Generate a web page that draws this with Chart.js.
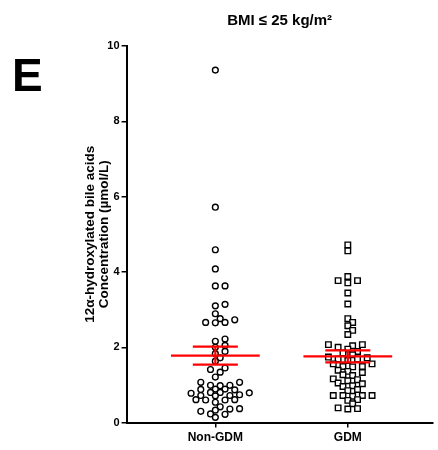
<!DOCTYPE html>
<html>
<head>
<meta charset="utf-8">
<script src="https://cdn.jsdelivr.net/npm/chart.js@4/dist/chart.umd.min.js"></script>
<style>
  body { margin: 0; background: #fff; }
  #wrap { width: 438px; height: 450px; position: relative; }
</style>
</head>
<body>
<div id="wrap"><canvas id="chart"></canvas></div>
<script>
// Data
const groups = ['Non-GDM', 'GDM'];
const nonGdmValues = [
  9.36, 5.72, 4.59, 4.08, 3.63, 3.63, 3.14, 3.10, 2.89, 2.76, 2.73, 2.66, 2.66, 2.65,
  2.22, 2.16, 2.05, 2.00, 1.89, 1.83, 1.72, 1.63, 1.45, 1.41, 1.34, 1.21, 1.07, 1.07,
  0.99, 0.99, 0.98, 0.89, 0.89, 0.88, 0.87, 0.80, 0.80, 0.79, 0.78, 0.74, 0.72, 0.72,
  0.71, 0.61, 0.61, 0.60, 0.60, 0.54, 0.42, 0.37, 0.36, 0.33, 0.30, 0.23, 0.22, 0.14
];
const gdmValues = [
  4.72, 4.56, 3.88, 3.77, 3.77, 3.71, 3.44, 3.15, 2.76, 2.66, 2.57, 2.45, 2.34, 2.07,
  2.07, 2.04, 2.00, 1.95, 1.89, 1.85, 1.80, 1.74, 1.72, 1.69, 1.69, 1.65, 1.56, 1.56,
  1.49, 1.49, 1.48, 1.39, 1.36, 1.33, 1.27, 1.25, 1.16, 1.14, 1.11, 1.05, 1.03, 0.98,
  0.96, 0.88, 0.85, 0.72, 0.72, 0.72, 0.72, 0.70, 0.61, 0.59, 0.50, 0.39, 0.37, 0.36
];
const groupMeans = [1.78, 1.76];
const groupSems = [0.24, 0.16];
const yTicks = [0, 2, 4, 6, 8, 10];

// Layout constants
const SWARM_STEP = 4.85;   // px between swarm columns
const MIN_GAP = 5.8;       // px, marker collision distance
const MEAN_HALF = 0.335;   // half width of mean bar (x units)
const SEM_HALF = 0.17;     // half width of SEM caps
const FONT = "'Liberation Sans', Arial, sans-serif";

const groupValues = [nonGdmValues, gdmValues];
const pointData = groupValues.map((vals, g) => vals.map(v => ({ x: g, y: v })));

// red mean +/- SEM segments
function errorSegments() {
  const segs = [];
  groupMeans.forEach((m, g) => {
    const s = groupSems[g];
    segs.push([{ x: g - MEAN_HALF, y: m }, { x: g + MEAN_HALF, y: m }]);
    segs.push([{ x: g - SEM_HALF, y: m + s }, { x: g + SEM_HALF, y: m + s }]);
    segs.push([{ x: g - SEM_HALF, y: m - s }, { x: g + SEM_HALF, y: m - s }]);
    segs.push([{ x: g, y: m - s }, { x: g, y: m + s }]);
  });
  return segs;
}

const lineSets = errorSegments().map(seg => ({
  type: 'line',
  data: seg,
  borderColor: '#ff0000',
  borderWidth: 2.2,
  pointRadius: 0,
  fill: false,
  order: 0
}));

// Big panel letter
const panelLetter = {
  id: 'panelLetter',
  afterDraw(chart) {
    const ctx = chart.ctx;
    ctx.save();
    ctx.fillStyle = '#000';
    ctx.font = 'bold 46px ' + FONT;
    ctx.textBaseline = 'alphabetic';
    ctx.fillText('E', 12, 91);
    ctx.restore();
  }
};

const chart = new Chart(document.getElementById('chart'), {
  type: 'scatter',
  data: {
    datasets: [
      {
        data: pointData[0],
        pointStyle: 'circle',
        pointRadius: 2.9,
        borderWidth: 1.4,
        borderColor: '#000',
        backgroundColor: '#fff',
        order: 1
      },
      {
        data: pointData[1],
        pointStyle: 'rect',
        pointRadius: 3.9,
        borderWidth: 1.4,
        borderColor: '#000',
        backgroundColor: '#fff',
        order: 1
      },
      ...lineSets
    ]
  },
  options: {
    responsive: true,
    maintainAspectRatio: false,
    animation: false,
    layout: { padding: { left: 83, right: 0, top: 4, bottom: 2 } },
    plugins: {
      legend: { display: false },
      tooltip: { enabled: false },
      title: {
        display: true,
        fullSize: false,
        text: 'BMI ≤ 25 kg/m²',
        color: '#000',
        font: { family: FONT, weight: 'bold', size: 15 },
        padding: { top: 8, bottom: 16 }
      }
    },
    scales: {
      x: {
        type: 'linear',
        min: -0.67,
        max: 1.64,
        afterBuildTicks: scale => { scale.ticks = groups.map((_, i) => ({ value: i })); },
        ticks: {
          callback: v => groups[v],
          color: '#000',
          font: { family: FONT, weight: 'bold', size: 12 },
          padding: 3,
          maxRotation: 0
        },
        grid: { drawOnChartArea: false, drawTicks: true, tickLength: 5, color: '#000', lineWidth: 1.5 },
        border: { color: '#000', width: 2 }
      },
      y: {
        min: 0,
        max: 10,
        afterBuildTicks: scale => { scale.ticks = yTicks.map(v => ({ value: v })); },
        ticks: {
          color: '#000',
          font: { family: FONT, weight: 'bold', size: 11 },
          padding: 2
        },
        grid: { drawOnChartArea: false, drawTicks: true, tickLength: 5, color: '#000', lineWidth: 1.5 },
        border: { color: '#000', width: 2 },
        title: {
          display: true,
          text: ['12α-hydroxylated bile acids', 'Concentration (µmol/L)'],
          color: '#000',
          font: { family: FONT, weight: 'bold', size: 13.5, lineHeight: 1.05 },
          padding: { top: 0, bottom: -6 }
        }
      }
    }
  },
  plugins: [panelLetter]
});

// Spread the points sideways (beeswarm) using the chart's own scales
function applySwarm() {
  const xScale = chart.scales.x;
  const yScale = chart.scales.y;
  const pxPerX = xScale.getPixelForValue(1) - xScale.getPixelForValue(0);
  groupValues.forEach((vals, g) => {
    const placed = [];
    const order = vals.map((v, i) => i).sort((a, b) => vals[a] - vals[b]);
    order.forEach(i => {
      const py = yScale.getPixelForValue(vals[i]);
      for (let k = 0; k < 80; k++) {
        const off = (k % 2 === 1 ? 1 : -1) * Math.ceil(k / 2) * SWARM_STEP;
        const hit = placed.some(p => Math.hypot(p.x - off, p.y - py) < MIN_GAP);
        if (!hit) {
          placed.push({ x: off, y: py });
          pointData[g][i].x = g + off / pxPerX;
          break;
        }
      }
    });
  });
  chart.update('none');
}

applySwarm();
</script>
</body>
</html>
